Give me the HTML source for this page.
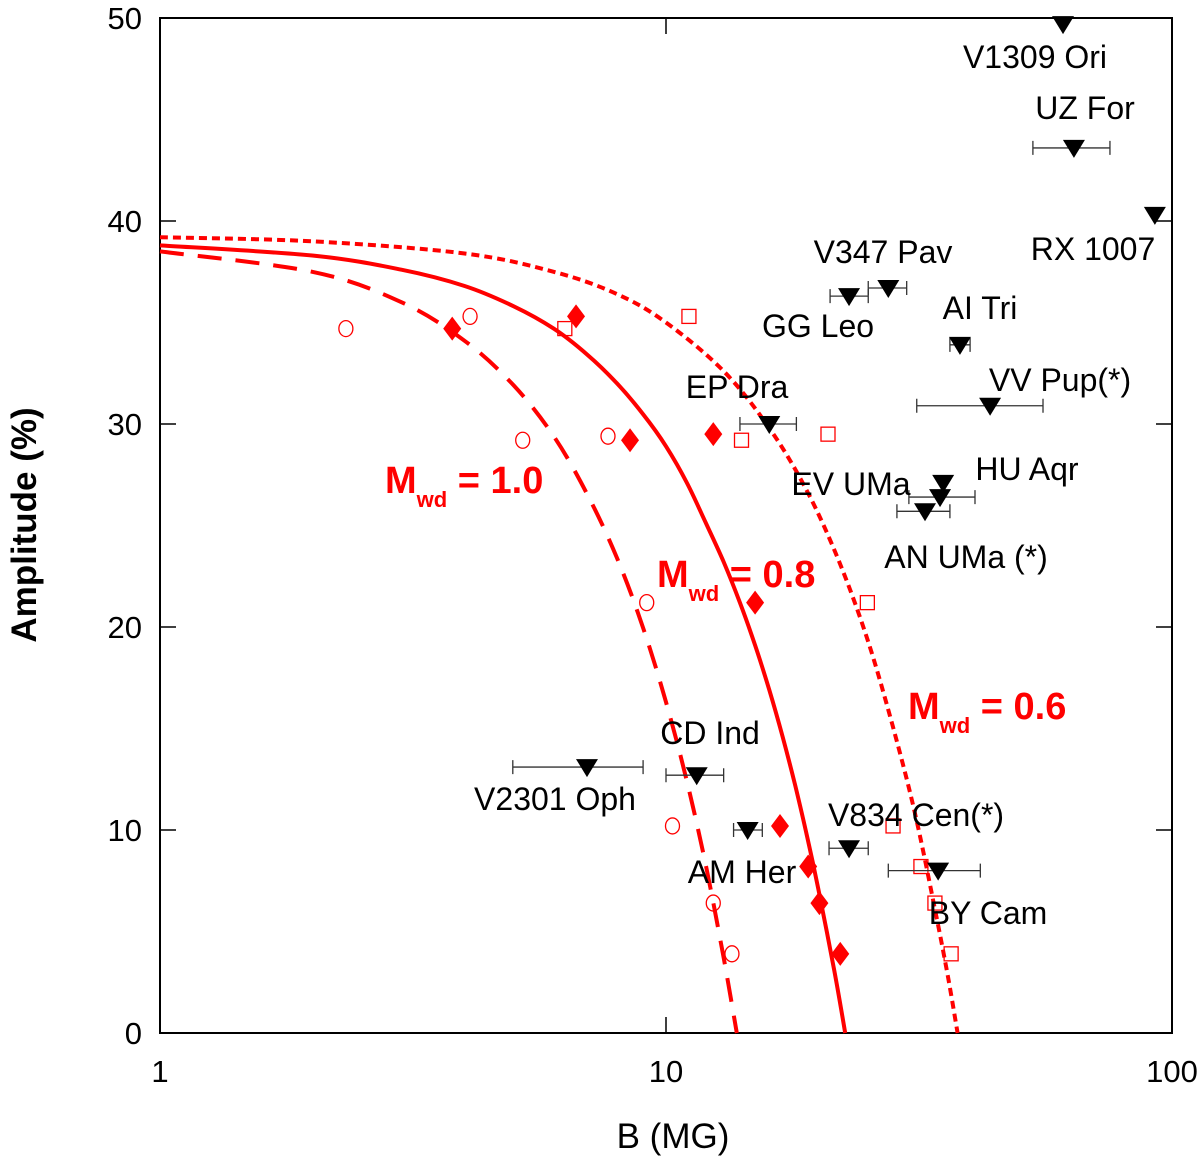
<!DOCTYPE html>
<html><head><meta charset="utf-8"><style>
html,body{margin:0;padding:0;background:#fff;}
svg{display:block;font-family:"Liberation Sans",Arial,sans-serif;}
</style></head><body>
<svg id="chart" width="1200" height="1161" viewBox="0 0 1200 1161">
<g id="grid"></g>
<g id="curves"></g>
<g id="marks"></g>
<g id="labels" font-size="32" fill="#000">
  <text x="1035" y="68" text-anchor="middle">V1309 Ori</text>
  <text x="1085" y="119" text-anchor="middle">UZ For</text>
  <text x="1093" y="260" text-anchor="middle">RX 1007</text>
  <text x="883" y="263" text-anchor="middle">V347 Pav</text>
  <text x="818" y="337" text-anchor="middle">GG Leo</text>
  <text x="980" y="319" text-anchor="middle">AI Tri</text>
  <text x="1060" y="391" text-anchor="middle">VV Pup(*)</text>
  <text x="737" y="398" text-anchor="middle">EP Dra</text>
  <text x="1027" y="480" text-anchor="middle">HU Aqr</text>
  <text x="851" y="495" text-anchor="middle">EV UMa</text>
  <text x="966" y="568" text-anchor="middle">AN UMa (*)</text>
  <text x="710" y="744" text-anchor="middle">CD Ind</text>
  <text x="555" y="810" text-anchor="middle">V2301 Oph</text>
  <text x="742" y="883" text-anchor="middle">AM Her</text>
  <text x="916" y="826" text-anchor="middle">V834 Cen(*)</text>
  <text x="988" y="924" text-anchor="middle">BY Cam</text>
</g>
<g fill="#ff0000" font-weight="bold">
  <text x="385" y="493" font-size="38">M<tspan font-size="22" dy="14">wd</tspan><tspan dy="-14"> = 1.0</tspan></text>
  <text x="657" y="587" font-size="38">M<tspan font-size="22" dy="14">wd</tspan><tspan dy="-14"> = 0.8</tspan></text>
  <text x="908" y="719" font-size="38">M<tspan font-size="22" dy="14">wd</tspan><tspan dy="-14"> = 0.6</tspan></text>
</g>
<text x="0" y="0" font-size="35" font-weight="bold" text-anchor="middle" transform="translate(36,525) rotate(-90)">Amplitude (%)</text>
<text x="673" y="1148" font-size="35" text-anchor="middle">B (MG)</text>
</svg>
<script>
// ---- data ----
const yTicks = [0, 10, 20, 30, 40, 50];
const xTicks = [1, 10, 100];
const curve10B = [1, 2, 3, 4, 5, 6, 7, 8, 9, 10, 11, 12, 13, 13.8];
const curve10A = [38.5, 37.5, 36.0, 34.1, 31.9, 29.4, 26.5, 23.4, 20.0, 16.3, 12.4, 8.2, 3.7, 0];
const curve08B = [1, 2, 3, 4, 5, 6, 7, 8, 9, 10, 11, 12, 13, 14, 15, 16, 17, 18, 19, 20, 21.5, 22.6];
const curve08A = [38.8, 38.3, 37.6, 36.8, 35.8, 34.7, 33.4, 32.0, 30.5, 28.9, 27.1, 25.1, 23.2, 21.2, 19.1, 16.9, 14.6, 12.2, 9.7, 7.1, 3.1, 0];
const curve06B = [1, 2, 4, 6, 8, 10, 13, 16, 19, 22, 25, 28, 31, 34, 36, 37.7];
const curve06A = [39.2, 39.0, 38.4, 37.5, 36.4, 35.0, 32.6, 29.8, 26.7, 23.2, 19.4, 15.2, 10.9, 6.1, 2.9, 0];
const circleB = [2.33, 4.10, 5.21, 7.68, 9.16, 10.3, 12.4, 13.5];
const circleA = [34.7, 35.3, 29.2, 29.4, 21.2, 10.2, 6.4, 3.9];
const diamondB = [3.78, 6.64, 8.49, 12.4, 15.0, 16.8, 19.1, 20.1, 22.1];
const diamondA = [34.7, 35.3, 29.2, 29.5, 21.2, 10.2, 8.2, 6.4, 3.9];
const squareB = [6.31, 11.1, 14.1, 20.9, 25.0, 28.1, 31.9, 34.0, 36.6];
const squareA = [34.7, 35.3, 29.2, 29.5, 21.2, 10.2, 8.2, 6.4, 3.9];
const starNames = ["V1309 Ori","UZ For","RX 1007","V347 Pav","GG Leo","AI Tri","VV Pup","EP Dra","HU Aqr","EV UMa","AN UMa","CD Ind","V2301 Oph","AM Her","V834 Cen","BY Cam"];
const starB = [60.9, 64.0, 92.5, 27.5, 23.0, 38.1, 43.7, 16.0, 35.3, 34.8, 32.5, 11.5, 6.98, 14.5, 23.0, 34.5];
const starA = [49.7, 43.6, 40.3, 36.7, 36.3, 33.9, 30.9, 30.0, 27.1, 26.4, 25.7, 12.7, 13.1, 10.0, 9.1, 8.0];
const starLo = [null, 53.1, null, 25.1, 21.1, 36.4, 31.3, 14.0, null, 30.2, 28.6, 10.0, 4.98, 13.6, 21.0, 27.5];
const starHi = [null, 75.4, null, 29.9, 25.1, 39.9, 55.6, 18.1, null, 40.8, 36.4, 13.0, 9.01, 15.5, 25.1, 41.8];

// ---- axes ----
const X0 = 160, X1 = 1172, Y0 = 1033, Y1 = 18;
const xs = b => X0 + (Math.log10(b)) / 2 * (X1 - X0);
const ys = a => Y0 - a / 50 * (Y0 - Y1);
const NS = "http://www.w3.org/2000/svg";
function mk(tag, attrs, parent) {
  const e = document.createElementNS(NS, tag);
  for (const k in attrs) e.setAttribute(k, attrs[k]);
  parent.appendChild(e);
  return e;
}
const grid = document.getElementById('grid');
const frame = mk('rect', {x: X0, y: Y1, width: X1 - X0, height: Y0 - Y1, fill: 'none', stroke: '#000', 'stroke-width': 2}, grid);


yTicks.forEach(v => {
  const y = ys(v);
  const t1 = mk('line', {x1: X0, x2: X0 + 16, y1: y, y2: y, stroke: '#000', 'stroke-width': 1.5}, grid);
  
  
  const t2 = mk('line', {x1: X1, x2: X1 - 16, y1: y, y2: y, stroke: '#000', 'stroke-width': 1.5}, grid);
  
  
  const tl = mk('text', {x: X0 - 18, y: y + 11, 'font-size': 31, 'text-anchor': 'end'}, grid);
  tl.textContent = v;
  
  
});
xTicks.forEach(v => {
  const x = xs(v);
  const t1 = mk('line', {x1: x, x2: x, y1: Y0, y2: Y0 - 16, stroke: '#000', 'stroke-width': 1.5}, grid);
  
  
  const t2 = mk('line', {x1: x, x2: x, y1: Y1, y2: Y1 + 16, stroke: '#000', 'stroke-width': 1.5}, grid);
  
  
  const tl = mk('text', {x: x, y: 1082, 'font-size': 31, 'text-anchor': 'middle'}, grid);
  tl.textContent = v;
  
  
});

// ---- curves (smoothed with Catmull-Rom) ----
const curves = document.getElementById('curves');
function curve(B, A, dash, name) {
  const P = B.map((b, i) => [xs(b), ys(A[i])]);
  let d = 'M' + P[0][0].toFixed(1) + ',' + P[0][1].toFixed(1);
  for (let i = 0; i < P.length - 1; i++) {
    const p0 = P[Math.max(0, i - 1)], p1 = P[i], p2 = P[i + 1], p3 = P[Math.min(P.length - 1, i + 2)];
    const c1 = [p1[0] + (p2[0] - p0[0]) / 6, p1[1] + (p2[1] - p0[1]) / 6];
    const c2 = [p2[0] - (p3[0] - p1[0]) / 6, p2[1] - (p3[1] - p1[1]) / 6];
    d += 'C' + c1.map(v => v.toFixed(1)).join(',') + ' ' + c2.map(v => v.toFixed(1)).join(',') + ' ' + p2.map(v => v.toFixed(1)).join(',');
  }
  const p = mk('path', {d: d, fill: 'none', stroke: '#ff0000', 'stroke-width': 4, 'stroke-dasharray': dash, 'stroke-linejoin': 'round'}, curves);
  
  
}
curve(curve10B, curve10A, '24,14', 'curve-mwd-1-0');
curve(curve08B, curve08A, 'none', 'curve-mwd-0-8');
curve(curve06B, curve06A, '8,5', 'curve-mwd-0-6');

// ---- markers ----
const marks = document.getElementById('marks');
circleB.forEach((b, i) => {
  const c = mk('ellipse', {cx: xs(b), cy: ys(circleA[i]), rx: 7, ry: 8, fill: 'none', stroke: '#ff0000', 'stroke-width': 1.3}, marks);
  
  
});
squareB.forEach((b, i) => {
  const s = mk('rect', {x: xs(b) - 7, y: ys(squareA[i]) - 7, width: 14, height: 14, fill: 'none', stroke: '#ff0000', 'stroke-width': 1.3}, marks);
  
  
});
diamondB.forEach((b, i) => {
  const x = xs(b), y = ys(diamondA[i]);
  const p = mk('polygon', {points: `${x},${y-12} ${x+9},${y} ${x},${y+12} ${x-9},${y}`, fill: '#ff0000'}, marks);
  
  
});
starB.forEach((b, i) => {
  const x = xs(b), y = ys(starA[i]);
  if (starLo[i] !== null) {
    const x1 = xs(starLo[i]), x2 = xs(starHi[i]);
    const e = mk('path', {d: `M${x1},${y}L${x2},${y}M${x1},${y-7}L${x1},${y+7}M${x2},${y-7}L${x2},${y+7}`, stroke: '#333', 'stroke-width': 1.3, fill: 'none'}, marks);
    
    
  }
  const t = mk('polygon', {points: `${x-11},${y-8} ${x+11},${y-8} ${x},${y+10}`, fill: '#000'}, marks);
  
  
});
</script>
</body></html>
